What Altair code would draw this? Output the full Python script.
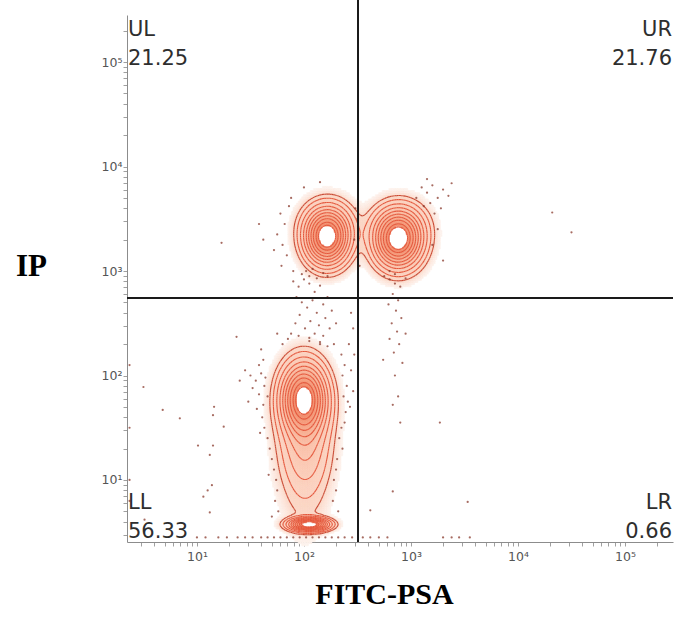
import numpy as np
import pandas as pd
import altair as alt

alt.data_transformers.disable_max_rows()

# ---------------- data ----------------
quad_names = ["UL", "UR", "LL", "LR"]
quad_values = ["21.25", "21.76", "56.33", "0.66"]

fitc_gate = 320      # vertical quadrant gate (FITC-PSA)
ip_gate = 552        # horizontal quadrant gate (IP)
x_domain = [2.22, 281000]
y_domain = [2.55, 282000]

# populations (log10 space): centre, spread, peak height
pop_log_fitc = [2.215, 2.225, 2.88, 2.89, 2.00, 2.01, 2.01, 2.05]
pop_log_ip = [3.31, 3.45, 3.29, 3.43, 1.78, 1.35, 0.80, 0.575]
pop_spread_fitc = [0.12, 0.14, 0.13, 0.15, 0.125, 0.145, 0.14, 0.105]
pop_spread_ip = [0.15, 0.14, 0.155, 0.14, 0.20, 0.30, 0.30, 0.035]
pop_peak = [0.85, 0.2, 0.85, 0.2, 0.88, 0.2, 0.03, 1.0]

contour_levels = [0.04, 0.073, 0.127, 0.197, 0.278, 0.364, 0.461, 0.566, 0.689, 0.79]

# individual events outside the contours (log10 FITC, log10 IP)
scatter_events = [
    (1.90, 2.90), (1.95, 2.85), (2.00, 2.92), (2.05, 2.88), (2.10, 2.80), (2.15, 2.86), (1.93, 2.75),
    (1.98, 2.70), (2.03, 2.65), (2.08, 2.72), (2.12, 2.60), (2.18, 2.68), (1.96, 2.58), (2.06, 2.52),
    (2.14, 2.48), (2.20, 2.55), (2.01, 2.45), (2.10, 2.40), (2.18, 2.38), (2.24, 2.45), (2.05, 2.33),
    (2.15, 2.30), (1.92, 2.50), (2.26, 2.62), (2.22, 2.75), (2.28, 2.30), (1.88, 2.40), (2.30, 2.50),
    (2.44, 2.60), (2.46, 2.45), (2.42, 2.30), (2.47, 2.20), (2.44, 2.05), (2.46, 1.85), (2.43, 1.70),
    (2.80, 2.92), (2.85, 2.88), (2.90, 2.85), (2.83, 2.78), (2.88, 2.72), (2.79, 2.68), (2.86, 2.62),
    (2.91, 2.55), (2.82, 2.50), (2.87, 2.42), (2.80, 2.35), (2.89, 2.30), (2.84, 2.22), (2.92, 2.12),
    (2.85, 2.00), (2.88, 1.80), (2.83, 1.72), (2.90, 1.55), (2.74, 2.15), (2.95, 2.40),
    (3.27, 1.55), (3.53, 0.79), (2.83, 0.89), (2.62, 0.71),
    (1.45, 2.05), (1.50, 2.00), (1.55, 1.95), (1.60, 2.02), (1.52, 1.88), (1.58, 1.82), (1.63, 1.90),
    (1.48, 1.75), (1.62, 1.72), (1.56, 1.68), (1.40, 1.95),
    (0.84, 1.59), (1.15, 1.62), (1.12, 1.24), (1.15, 1.33), (1.10, 0.90), (1.14, 0.95), (1.06, 0.84),
    (1.12, 0.69), (0.50, 1.89), (0.68, 1.67), (0.51, 0.62), (1.01, 1.33), (1.25, 1.51), (1.37, 2.37),
    (1.16, 1.70),
    (1.60, 2.25), (1.62, 2.15), (1.58, 2.10), (1.64, 1.98), (1.61, 1.60), (1.63, 1.50), (1.66, 1.40),
    (1.68, 1.30), (1.70, 1.20), (1.72, 1.10), (1.74, 1.00), (1.75, 0.90), (1.73, 0.80), (1.76, 0.70),
    (1.70, 0.65), (1.66, 1.80), (1.59, 1.45), (1.67, 1.05),
    (1.75, 2.40), (1.85, 2.35), (1.95, 2.38), (2.05, 2.36), (2.15, 2.32), (1.80, 2.30), (2.22, 2.28),
    (2.35, 2.20), (2.38, 2.10), (2.36, 2.00), (2.40, 1.90), (2.37, 1.80), (2.39, 1.65), (2.35, 1.50),
    (2.33, 1.40), (2.36, 1.30), (2.31, 1.20), (2.30, 1.10), (2.28, 1.00), (2.30, 0.90), (2.27, 0.80),
    (2.32, 0.70), (2.38, 1.55), (2.41, 1.75),
    (1.00, 0.45), (1.08, 0.45), (1.20, 0.45), (1.28, 0.45), (1.38, 0.45), (1.45, 0.45), (1.52, 0.45),
    (1.60, 0.45), (1.66, 0.45), (1.72, 0.45), (1.78, 0.45), (1.84, 0.45), (1.90, 0.45), (1.96, 0.45),
    (2.02, 0.45), (2.08, 0.45), (2.14, 0.45), (2.20, 0.45), (2.26, 0.45), (2.32, 0.45), (2.38, 0.45),
    (2.45, 0.45), (2.55, 0.45), (2.62, 0.45), (2.70, 0.45), (2.78, 0.45), (3.30, 0.45), (3.38, 0.45),
    (3.45, 0.45), (3.55, 0.45),
    (0.37, 2.10), (0.37, 1.50), (0.37, 1.00), (0.37, 0.80),
    (1.78, 3.55), (1.82, 3.45), (1.75, 3.35), (1.80, 3.25), (1.86, 3.62), (1.84, 3.15), (1.79, 3.05),
    (1.72, 3.20), (1.62, 3.30), (1.58, 3.45), (1.88, 3.70), (1.90, 3.00),
    (1.98, 2.97), (2.05, 2.95), (2.12, 2.93), (2.18, 2.98), (2.02, 3.00), (2.22, 2.95), (2.08, 3.02),
    (1.23, 3.27), (2.00, 3.80), (2.15, 3.85),
    (3.10, 3.80), (3.15, 3.75), (3.20, 3.82), (3.25, 3.70), (3.30, 3.78), (3.18, 3.65), (3.35, 3.72),
    (3.12, 3.62), (3.28, 3.60), (3.22, 3.55), (3.38, 3.84), (3.05, 3.70), (3.15, 3.88),
    (3.25, 3.40), (3.20, 3.25), (3.30, 3.10),
    (2.75, 2.95), (2.85, 2.97), (2.95, 2.93), (2.80, 3.00),
    (2.48, 3.60), (2.50, 3.50), (2.47, 3.30), (2.52, 3.05),
    (4.32, 3.56), (4.50, 3.37),
]

# ---------------- density model and contours ----------------
du, dv = 0.016, 0.02
gu = np.arange(1.25, 3.6, du)
gv = np.arange(0.30, 4.15, dv)
U, V = np.meshgrid(gu, gv)
D = np.zeros_like(U)
for cu, cv, su, sv, a in zip(pop_log_fitc, pop_log_ip, pop_spread_fitc, pop_spread_ip, pop_peak):
    D += a * np.exp(-0.5 * (((U - cu) / su) ** 2 + ((V - cv) / sv) ** 2))

segs = []
for li, lev in enumerate(contour_levels):
    above = D > lev
    c = (above[:-1, :-1].astype(int) + 2 * above[:-1, 1:] + 4 * above[1:, 1:] + 8 * above[1:, :-1])
    for i, j in np.argwhere((c > 0) & (c < 15)):
        corners = [(gu[j], gv[i]), (gu[j + 1], gv[i]), (gu[j + 1], gv[i + 1]), (gu[j], gv[i + 1])]
        vals = [D[i, j], D[i, j + 1], D[i + 1, j + 1], D[i + 1, j]]
        pts = []
        for e in range(4):
            a_, b_ = e, (e + 1) % 4
            if (vals[a_] > lev) != (vals[b_] > lev):
                t = (lev - vals[a_]) / (vals[b_] - vals[a_])
                pts.append((corners[a_][0] + t * (corners[b_][0] - corners[a_][0]),
                            corners[a_][1] + t * (corners[b_][1] - corners[a_][1])))
        pairs = [(0, 1)] if len(pts) == 2 else [(0, 1), (2, 3)]
        for p, q in pairs:
            segs.append({"x": 10 ** pts[p][0], "y": 10 ** pts[p][1],
                         "x2": 10 ** pts[q][0], "y2": 10 ** pts[q][1], "level": li})
seg_df = pd.DataFrame(segs)

mask = (D > 0.012) & (D < contour_levels[-1])
fill_df = pd.DataFrame({
    "x": 10 ** (U[mask] - du / 2), "x2": 10 ** (U[mask] + du / 2),
    "y": 10 ** (V[mask] - dv / 2), "y2": 10 ** (V[mask] + dv / 2),
    "d": D[mask],
})

dots_df = pd.DataFrame({"x": [10 ** p[0] for p in scatter_events],
                        "y": [10 ** p[1] for p in scatter_events]})

# ---------------- scales & axes ----------------
x_ticks = [m * 10 ** k for k in range(0, 6) for m in range(1, 10) if x_domain[0] <= m * 10 ** k <= x_domain[1]]
y_ticks = [m * 10 ** k for k in range(0, 6) for m in range(1, 10) if y_domain[0] <= m * 10 ** k <= y_domain[1]]
label_expr = ("datum.value == 10 ? '10¹' : datum.value == 100 ? '10²' : datum.value == 1000 ? '10³' : "
              "datum.value == 10000 ? '10⁴' : datum.value == 100000 ? '10⁵' : ''")

xs = alt.Scale(type="log", domain=x_domain, nice=False)
ys = alt.Scale(type="log", domain=y_domain, nice=False)

x_axis = alt.Axis(values=x_ticks, labelExpr=label_expr, title="FITC-PSA",
                  titleFont="Liberation Serif", titleFontSize=30, titleFontWeight="bold", titleColor="black",
                  titleX=257, titleY=61, titleAlign="center", titleBaseline="alphabetic",
                  labelFont="DejaVu Sans", labelFontSize=12.5, labelColor="#555555", labelOverlap=False,
                  labelFlush=False, labelPadding=4, domainColor="#8c8c8c", tickColor="#a0a0a0", tickSize=4,
                  grid=False)
y_axis = alt.Axis(values=y_ticks, labelExpr=label_expr, title="IP", titleAngle=0,
                  titleFont="Liberation Serif", titleFontSize=31, titleFontWeight="bold", titleColor="black",
                  titleX=-96, titleY=260, titleAlign="center", titleBaseline="alphabetic",
                  labelFont="DejaVu Sans", labelFontSize=12.5, labelColor="#555555", labelOverlap=False,
                  labelFlush=False, labelPadding=1, domainColor="#8c8c8c", tickColor="#a0a0a0", tickSize=4,
                  grid=False)


def X(f="x"):
    return alt.X(f"{f}:Q", scale=xs, axis=x_axis)


def Y(f="y"):
    return alt.Y(f"{f}:Q", scale=ys, axis=y_axis)


fill_scale = dict(domain=[0.012, 0.04, 0.79], range=["#fdf3ee", "#fcd8c8", "#f28a69"])
fill = alt.Chart(fill_df).mark_rect(strokeWidth=0.6).encode(
    x=X(), x2="x2:Q", y=Y(), y2="y2:Q",
    color=alt.Color("d:Q", scale=alt.Scale(**fill_scale), legend=None),
    stroke=alt.Stroke("d:Q", scale=alt.Scale(**fill_scale), legend=None),
)

lines = alt.Chart(seg_df).mark_rule(strokeWidth=1.1).encode(
    x=X(), x2="x2:Q", y=Y(), y2="y2:Q",
    color=alt.condition("datum.level == 0", alt.value("#c94a34"), alt.value("#e4583d")))

dots = alt.Chart(dots_df).mark_circle(size=5, color="#8a3a2c", opacity=0.75).encode(x=X(), y=Y())

gate_df = pd.DataFrame({"x": [fitc_gate], "y": [ip_gate]})
vgate = alt.Chart(gate_df).mark_rule(color="#1a1a1a", strokeWidth=2, clip=False).encode(
    x=X(), y=alt.value(-15), y2=alt.value(527))
hgate = alt.Chart(gate_df).mark_rule(color="#1a1a1a", strokeWidth=2).encode(y=Y())

texts = []
corner_x = [x_domain[0], x_domain[1], x_domain[0], x_domain[1]]
corner_y = [y_domain[1], y_domain[1], y_domain[0], y_domain[0]]
for k in range(4):
    left = k % 2 == 0
    top = k < 2
    offs = (21, 50) if top else (-33, -4)
    for txt, off in zip([quad_names[k], quad_values[k]], offs):
        df = pd.DataFrame({"x": [corner_x[k]], "y": [corner_y[k]], "t": [txt]})
        texts.append(alt.Chart(df).mark_text(
            align="left" if left else "right", baseline="alphabetic", dx=1 if left else -1, dy=off,
            font="DejaVu Sans", fontSize=21, color="#2e2e2e").encode(x=X(), y=Y(), text="t:N"))

chart = alt.layer(fill, lines, dots, vgate, hgate, *texts).properties(
    width=546, height=527, autosize="none",
    padding={"left": 127, "top": 15, "right": 5, "bottom": 75},
    background="white",
).configure_view(stroke=None)

chart.save("out.html", embed_options={"renderer": "svg", "actions": False})
